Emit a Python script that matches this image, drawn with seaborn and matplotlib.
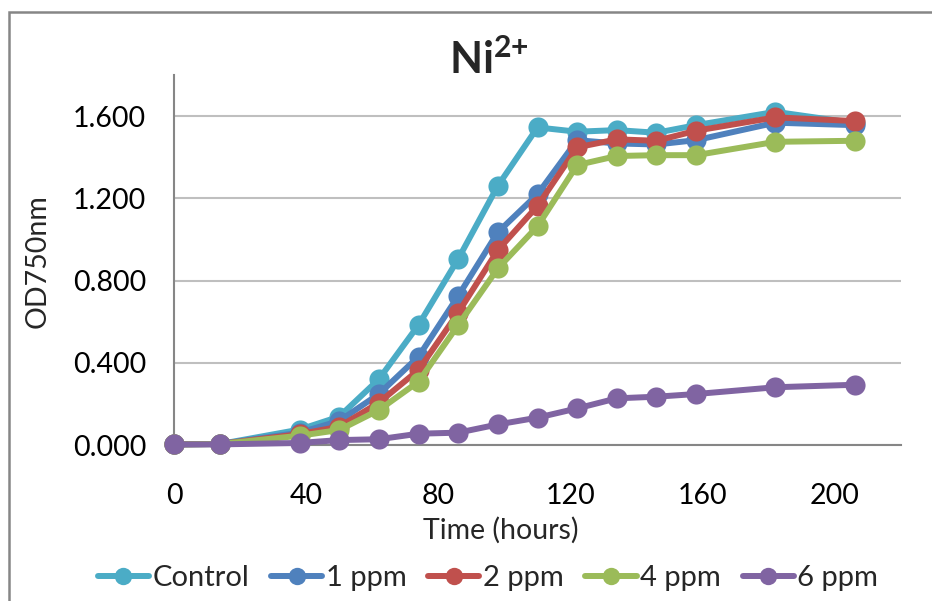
import matplotlib
matplotlib.use("Agg")
import matplotlib.pyplot as plt
import matplotlib.patches as mpatches
import seaborn as sns
import pandas as pd

# ---- data ----
times = [0, 14, 38, 50, 62, 74, 86, 98, 110, 122, 134, 146, 158, 182, 206]
control = [0.003, 0.005, 0.075, 0.138, 0.320, 0.584, 0.905, 1.261, 1.545, 1.524, 1.532, 1.519, 1.556, 1.621, 1.566]
ppm1 = [0.003, 0.005, 0.060, 0.117, 0.248, 0.430, 0.725, 1.035, 1.220, 1.483, 1.467, 1.462, 1.483, 1.568, 1.556]
ppm2 = [0.003, 0.005, 0.053, 0.089, 0.206, 0.365, 0.644, 0.948, 1.163, 1.448, 1.487, 1.480, 1.529, 1.594, 1.576]
ppm4 = [0.003, 0.005, 0.045, 0.073, 0.170, 0.308, 0.584, 0.859, 1.064, 1.362, 1.406, 1.410, 1.410, 1.475, 1.480]
ppm6 = [0.003, 0.003, 0.010, 0.024, 0.028, 0.055, 0.060, 0.100, 0.133, 0.178, 0.227, 0.235, 0.248, 0.281, 0.293]
series_names = ["Control", "1 ppm", "2 ppm", "4 ppm", "6 ppm"]
colors = ["#4BACC6", "#4F81BD", "#C0504D", "#9BBB59", "#8064A2"]
x_ticks = [0, 40, 80, 120, 160, 200]
y_ticks = [0.0, 0.4, 0.8, 1.2, 1.6]

sns.set_theme(style="white")
FONT = ["Lato", "DejaVu Sans"]
plt.rcParams["font.family"] = FONT
plt.rcParams["mathtext.fontset"] = "custom"
plt.rcParams["mathtext.rm"] = "Lato"
plt.rcParams["mathtext.bf"] = "Lato:bold"

W, H = 932, 601
fig = plt.figure(figsize=(W / 100, H / 100), dpi=100)
ax = fig.add_axes([174 / W, 1 - 445 / H, (901 - 174) / W, (445 - 75) / H])

df = pd.DataFrame({"t": times * 5,
                   "od": control + ppm1 + ppm2 + ppm4 + ppm6,
                   "series": sum([[n] * len(times) for n in series_names], [])})

for name, col in zip(series_names, colors):
    sub = df[df["series"] == name]
    sns.lineplot(data=sub, x="t", y="od", ax=ax, color=col, marker="o",
                 markersize=14.5, markeredgewidth=0, linewidth=4.3,
                 label=name, clip_on=False, zorder=3, legend=False)

ax.set_xlim(0, 220)
ax.set_ylim(0, 1.8)
ax.set_xticks(x_ticks)
ax.set_xticklabels([str(v) for v in x_ticks])
ax.set_yticks(y_ticks)
ax.set_yticklabels([f"{v:.3f}" for v in y_ticks])
ax.tick_params(axis="both", length=0, labelsize=20.5, colors="black")
ax.tick_params(axis="x", pad=27)
ax.tick_params(axis="y", pad=20)
ax.yaxis.grid(True, color="#BFBFBF", linewidth=1.5)
ax.xaxis.grid(False)
for s in ["top", "right"]:
    ax.spines[s].set_visible(False)
for s in ["left", "bottom"]:
    ax.spines[s].set_color("#868686")
    ax.spines[s].set_linewidth(1.5)
ax.set_xlabel("")
ax.set_ylabel("")
ax.set_axisbelow(True)

fig.text(501 / W, 1 - 530 / H, "Time (hours)", ha="center", va="center", fontsize=20.5)
fig.text(38 / W, 1 - 261 / H, "OD750nm", ha="center", va="center", rotation=90, fontsize=20.5)
fig.text(489 / W, 1 - 60 / H, r"$\mathbf{Ni^{2{+}}}$", ha="center", va="center", fontsize=31)

handles = [plt.Line2D([], [], color=c, marker="o", markersize=12.5, linewidth=4.3,
                      markeredgewidth=0) for c in colors]
fig.legend(handles, series_names, loc="center", bbox_to_anchor=(488 / W, 1 - 578 / H),
           ncol=5, frameon=False, fontsize=21, handlelength=1.75, handletextpad=0.12,
           columnspacing=0.75, borderaxespad=0, borderpad=0)

border = mpatches.Rectangle((9 / W, -0.2), 1.5, 1 - 12 / H + 0.2, transform=fig.transFigure,
                            fill=False, edgecolor="#868686", linewidth=1.8, clip_on=False)
fig.patches.append(border)

fig.savefig("out.png", dpi=100)
